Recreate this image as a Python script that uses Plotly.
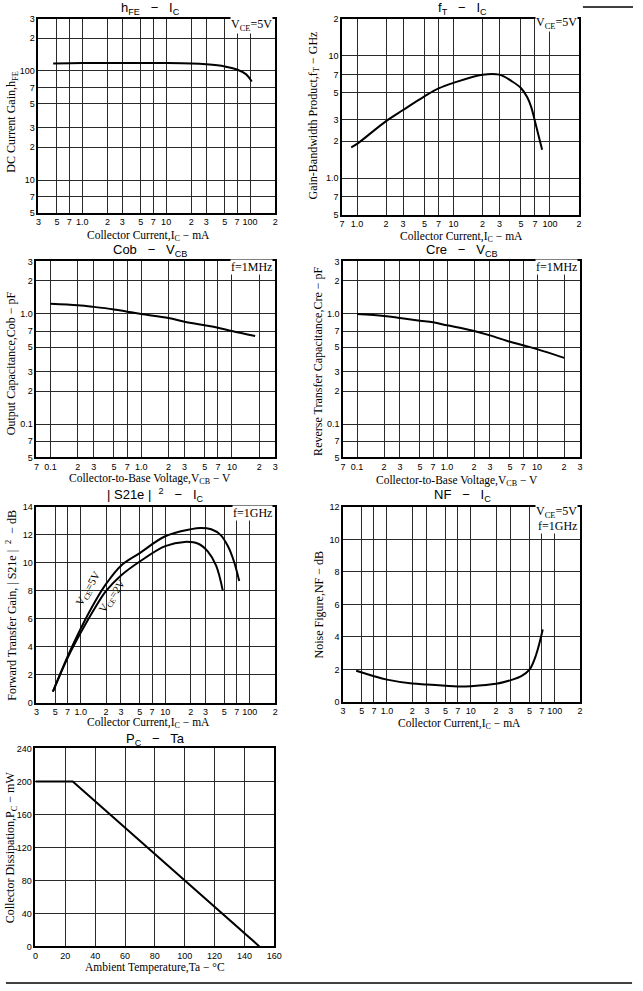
import math
import plotly.graph_objects as go

W, H = 643, 991

# ---------------- data ----------------
hfe_ic = [0.45, 1, 2, 5, 10, 20, 30, 50, 70, 90, 105]
hfe_val = [117, 118, 118, 118, 118, 117, 115, 110, 103, 93, 80]

ft_ic = [0.87, 1, 2, 3, 5, 7, 10, 20, 30, 40, 50, 58, 64, 70, 83]
ft_val = [1.78, 1.9, 2.92, 3.6, 4.65, 5.4, 6.0, 7.0, 7.0, 6.2, 5.45, 4.6, 3.8, 2.9, 1.7]

cob_vcb = [0.1, 0.2, 0.3, 0.5, 0.7, 1, 2, 3, 5, 7, 10, 18]
cob_val = [1.24, 1.2, 1.16, 1.1, 1.05, 1.0, 0.92, 0.85, 0.79, 0.75, 0.7, 0.63]

cre_vcb = [0.1, 0.2, 0.3, 0.5, 0.7, 1, 2, 3, 5, 7, 10, 20]
cre_val = [1.0, 0.96, 0.92, 0.87, 0.84, 0.79, 0.7, 0.64, 0.56, 0.52, 0.48, 0.40]

s21_5v_ic = [0.47, 0.7, 1.0, 1.5, 2, 3, 5, 10, 20, 26, 35, 45, 55, 65, 75]
s21_5v_val = [0.8, 3.3, 5.3, 7.3, 8.5, 9.8, 10.7, 11.9, 12.4, 12.5, 12.4, 12.0, 11.2, 10.1, 8.7]
s21_2v_ic = [0.47, 0.7, 1.0, 1.5, 2, 3, 5, 10, 17, 25, 32, 40, 48]
s21_2v_val = [0.8, 3.2, 5.0, 6.85, 8.0, 9.1, 10.1, 11.2, 11.5, 11.35, 10.8, 9.8, 8.0]

nf_ic = [0.43, 0.7, 1, 2, 3, 5, 7, 10, 20, 30, 40, 50, 60, 72]
nf_val = [1.92, 1.58, 1.37, 1.13, 1.07, 0.99, 0.95, 0.97, 1.11, 1.34, 1.58, 1.98, 2.9, 4.45]

pc_ta = [0, 25, 150]
pc_val = [200, 200, 0]

# tick definitions
ic_ticks = [0.3, 0.5, 0.7, 1, 2, 3, 5, 7, 10, 20, 30, 50, 70, 100, 200]
ic_text = ["3", "5", "7", "1.0", "2", "3", "5", "7", "10", "2", "3", "5", "7", "100", "2"]
ft_x_ticks = [0.7, 1, 2, 3, 5, 7, 10, 20, 30, 50, 70, 100, 200]
ft_x_text = ["7", "1.0", "2", "3", "5", "7", "10", "2", "3", "5", "7", "100", "2"]
hfe_y_ticks = [5, 7, 10, 20, 30, 50, 70, 100, 200, 300]
hfe_y_text = ["5", "7", "10", "2", "3", "5", "7", "100", "2", "3"]
ft_y_ticks = [0.5, 0.7, 1, 2, 3, 5, 7, 10, 20]
ft_y_text = ["5", "7", "1.0", "2", "3", "5", "7", "10", "2"]
v_ticks = [0.07, 0.1, 0.2, 0.3, 0.5, 0.7, 1, 2, 3, 5, 7, 10, 20, 30]
v_text = ["7", "0.1", "2", "3", "5", "7", "1.0", "2", "3", "5", "7", "10", "2", "3"]
c_ticks = [0.05, 0.07, 0.1, 0.2, 0.3, 0.5, 0.7, 1, 2, 3]
c_text = ["5", "7", "0.1", "2", "3", "5", "7", "1.0", "2", "3"]
s21_y_ticks = [0, 2, 4, 6, 8, 10, 12, 14]
nf_y_ticks = [0, 2, 4, 6, 8, 10, 12]
ta_ticks = [0, 20, 40, 60, 80, 100, 120, 140, 160]
pc_y_ticks = [0, 40, 80, 120, 160, 200, 240]


def px(x):
    return x / W


def py(y):
    return 1 - y / H


TICKFONT = dict(family="Liberation Sans", size=9, color="black")
SERIF = "Liberation Serif"


def axis(dom, typ, rng, ticks, text=None, anchor=None):
    d = dict(domain=dom, type=typ, range=rng, tickmode="array", tickvals=ticks,
             ticktext=text if text is not None else [str(t) for t in ticks],
             showgrid=True, gridcolor="#2a2a2a", gridwidth=1, zeroline=False,
             showline=True, linecolor="black", linewidth=1.5, mirror=True,
             ticks="", tickfont=TICKFONT, anchor=anchor, fixedrange=True)
    return d


def lg(a, b):
    return [math.log10(a), math.log10(b)]


fig = go.Figure()
line = dict(color="black", width=2, shape="spline", smoothing=1.0)

fig.add_trace(go.Scatter(x=hfe_ic, y=hfe_val, mode="lines", line=line, xaxis="x", yaxis="y"))
fig.add_trace(go.Scatter(x=ft_ic, y=ft_val, mode="lines", line=line, xaxis="x2", yaxis="y2"))
fig.add_trace(go.Scatter(x=cob_vcb, y=cob_val, mode="lines", line=line, xaxis="x3", yaxis="y3"))
fig.add_trace(go.Scatter(x=cre_vcb, y=cre_val, mode="lines", line=line, xaxis="x4", yaxis="y4"))
fig.add_trace(go.Scatter(x=s21_5v_ic, y=s21_5v_val, mode="lines", line=line, xaxis="x5", yaxis="y5"))
fig.add_trace(go.Scatter(x=s21_2v_ic, y=s21_2v_val, mode="lines", line=line, xaxis="x5", yaxis="y5"))
fig.add_trace(go.Scatter(x=nf_ic, y=nf_val, mode="lines", line=line, xaxis="x6", yaxis="y6"))
fig.add_trace(go.Scatter(x=pc_ta, y=pc_val, mode="lines", line=dict(color="black", width=2),
                         xaxis="x7", yaxis="y7"))

L1, R1 = px(36), px(277)
L2, R2 = px(345), px(586)

layout = dict(
    width=W, height=H, margin=dict(l=0, r=0, t=0, b=0), showlegend=False,
    paper_bgcolor="white", plot_bgcolor="white",
    xaxis=axis([L1, R1], "log", lg(0.3, 200), ic_ticks, ic_text, "y"),
    yaxis=axis([py(210), py(14)], "log", lg(5, 300), hfe_y_ticks, hfe_y_text, "x"),
    xaxis2=axis([L2, R2], "log", lg(0.7, 200), ft_x_ticks, ft_x_text, "y2"),
    yaxis2=axis([py(212), py(14)], "log", lg(0.5, 20), ft_y_ticks, ft_y_text, "x2"),
    xaxis3=axis([px(34), R1], "log", lg(0.07, 30), v_ticks, v_text, "y3"),
    yaxis3=axis([py(457), py(259)], "log", lg(0.05, 3), c_ticks, c_text, "x3"),
    xaxis4=axis([px(346), px(587)], "log", lg(0.07, 30), v_ticks, v_text, "y4"),
    yaxis4=axis([py(457), py(259)], "log", lg(0.05, 3), c_ticks, c_text, "x4"),
    xaxis5=axis([px(34), R1], "log", lg(0.3, 200), ic_ticks, ic_text, "y5"),
    yaxis5=axis([py(705), py(507)], "linear", [0, 14], s21_y_ticks, None, "x5"),
    xaxis6=axis([px(346), px(587)], "log", lg(0.3, 200), ic_ticks, ic_text, "y6"),
    yaxis6=axis([py(704), py(507)], "linear", [0, 12], nf_y_ticks, None, "x6"),
    xaxis7=axis([px(33), px(276)], "linear", [0, 160], ta_ticks, None, "y7"),
    yaxis7=axis([py(951), py(751)], "linear", [0, 240], pc_y_ticks, None, "x7"),
)
fig.update_layout(**layout)

ann = []


def text(x, y, s, size=12, family=SERIF, angle=0, xanchor="center", yanchor="middle", bg=None):
    d = dict(x=px(x), y=py(y), xref="paper", yref="paper", text=s, showarrow=False,
             font=dict(family=family, size=size, color="black"), textangle=angle,
             xanchor=xanchor, yanchor=yanchor)
    if bg:
        d["bgcolor"] = bg
        d["borderpad"] = 0
    ann.append(d)


TF = "Liberation Sans"
# titles
text(150, 4, "h<sub>FE</sub>   −   I<sub>C</sub>", 13, TF)
text(467, 4, "f<sub>T</sub>   −   I<sub>C</sub>", 13, TF)
text(150, 248, "Cob   −   V<sub>CB</sub>", 13, TF)
text(467, 248, "Cre   −   V<sub>CB</sub>", 13, TF)
text(155, 495, "| S21e |  <sup>2</sup>   −   I<sub>C</sub>", 13, TF)
text(467, 495, "NF   −   I<sub>C</sub>", 13, TF)
text(155, 742, "P<sub>C</sub>   −   Ta", 13, TF)

# x titles
text(148, 233, "Collector Current,I<sub>C</sub> − mA", 11.5)
text(466, 234, "Collector Current,I<sub>C</sub> − mA", 11.5)
text(150, 479, "Collector-to-Base Voltage,V<sub>CB</sub> − V", 11.5)
text(462, 481, "Collector-to-Base Voltage,V<sub>CB</sub> − V", 11.5)
text(148, 725, "Collector Current,I<sub>C</sub> − mA", 11.5)
text(464, 726, "Collector Current,I<sub>C</sub> − mA", 11.5)
text(155, 972, "Ambient Temperature,Ta − °C", 11.5)

# y titles
text(9, 118, "DC Current Gain,h<sub>FE</sub>", angle=-90)
text(316, 112, "Gain-Bandwidth Product,f<sub>T</sub> − GHz", angle=-90)
text(9, 362, "Output Capacitance,Cob − pF", angle=-90)
text(321, 360, "Reverse Transfer Capacitance,Cre − pF", angle=-90)
text(9, 606, "Forward Transfer Gain, | S21e |  <sup>2</sup>  − dB", angle=-90)
text(321, 606, "Noise Figure,NF − dB", angle=-90)
text(9, 851, "Collector Dissipation,P<sub>C</sub> − mW", angle=-90)

# conditions
text(275, 20, "V<sub>CE</sub>=5V", 12, xanchor="right", bg="white")
text(585, 18, "V<sub>CE</sub>=5V", 12, xanchor="right", bg="white")
text(275, 265, "f=1MHz", 12, xanchor="right", bg="white")
text(585, 265, "f=1MHz", 12, xanchor="right", bg="white")
text(275, 513, "f=1GHz", 12, xanchor="right", bg="white")
text(585, 512, "V<sub>CE</sub>=5V", 12, xanchor="right", bg="white")
text(585, 526, "f=1GHz", 12, xanchor="right", bg="white")

# curve labels
text(87, 590, "V<sub>CE</sub>=5V", 11, angle=-60)
text(111, 598, "V<sub>CE</sub>=2V", 11, angle=-55)

fig.update_layout(annotations=ann)

fig.add_shape(type="line", xref="paper", yref="paper", x0=px(590), x1=px(641),
              y0=py(2), y1=py(2), line=dict(color="black", width=1.5))
fig.add_shape(type="line", xref="paper", yref="paper", x0=px(3), x1=px(640),
              y0=py(988), y1=py(988), line=dict(color="black", width=1.5))

fig.write_html("out.html")
